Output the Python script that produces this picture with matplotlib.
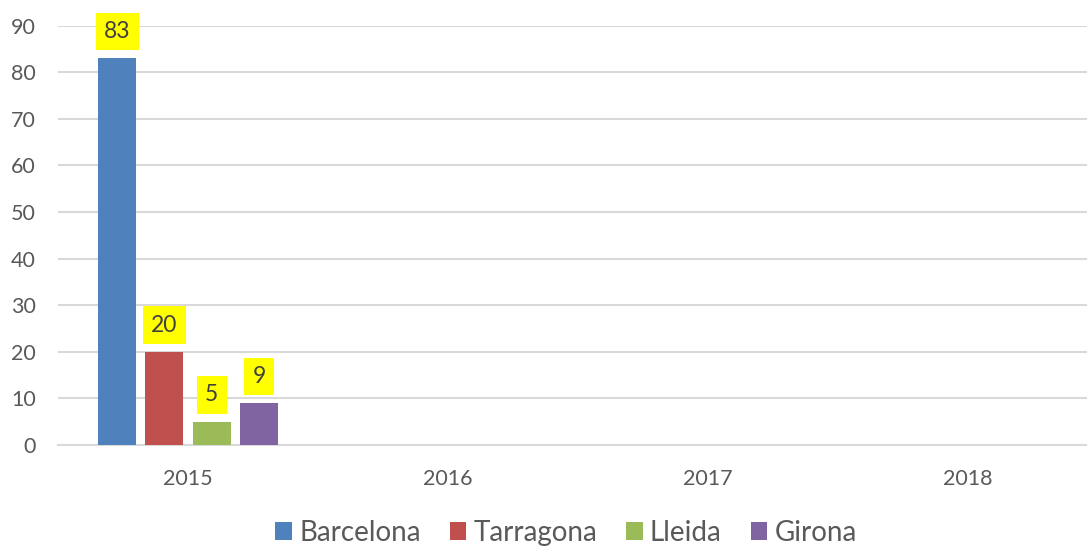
import numpy as np
import matplotlib
matplotlib.use("Agg")
import matplotlib.pyplot as plt
from matplotlib.patches import Patch

years = ["2015", "2016", "2017", "2018"]
series_names = ["Barcelona", "Tarragona", "Lleida", "Girona"]
barcelona = [83, np.nan, np.nan, np.nan]
tarragona = [20, np.nan, np.nan, np.nan]
lleida = [5, np.nan, np.nan, np.nan]
girona = [9, np.nan, np.nan, np.nan]
colors = ["#4F81BD", "#C0504D", "#9BBB59", "#8064A2"]
yticks = [0, 10, 20, 30, 40, 50, 60, 70, 80, 90]

plt.rcParams['font.family'] = ['Lato', 'DejaVu Sans']

W, H = 1087, 547
fig = plt.figure(figsize=(W / 100, H / 100), dpi=100)
ax = fig.add_axes([58 / W, (H - 445) / H, (1098 - 58) / W, (445 - 25.7) / H])

x = np.arange(len(years))
step = 0.182
width = 0.146
all_series = [barcelona, tarragona, lleida, girona]
for j, (vals, c, name) in enumerate(zip(all_series, colors, series_names)):
    pos = x + (j - 1.5) * step
    v = np.array(vals, dtype=float)
    ax.bar(pos, np.nan_to_num(v), width=width, color=c, zorder=3, label=name)
    for px, val in zip(pos, v):
        if not np.isnan(val):
            ax.annotate(f"{int(val)}", (px, val), xytext=(0, 19.3), textcoords="offset points",
                        ha="center", va="center", fontsize=16.5, color="#404040", zorder=4,
                        bbox=dict(boxstyle="square,pad=0.36", fc="#FFFF00", ec="none"))

ax.set_xlim(-0.5, 3.5)
ax.set_ylim(0, 90)
ax.set_yticks(yticks)
ax.set_xticks(x)
ax.set_xticklabels(years)
ax.yaxis.grid(True, color="#D9D9D9", linewidth=1.5, zorder=0)
ax.set_axisbelow(True)
for s in ["top", "right", "left"]:
    ax.spines[s].set_visible(False)
ax.spines["bottom"].set_color("#D9D9D9")
ax.spines["bottom"].set_linewidth(1.5)
ax.tick_params(axis="both", length=0, labelsize=15.5, labelcolor="#595959")
ax.tick_params(axis="y", pad=16)
ax.tick_params(axis="x", pad=17)

handles = [Patch(facecolor=c, edgecolor="none") for c in colors]
fig.legend(handles, series_names, loc="center", bbox_to_anchor=(566 / W, 1 - 533 / H),
           ncol=4, frameon=False, fontsize=20, labelcolor="#595959",
           handlelength=0.6, handleheight=0.6, handletextpad=0.25, columnspacing=1.05)

fig.savefig("out.png", dpi=100)
